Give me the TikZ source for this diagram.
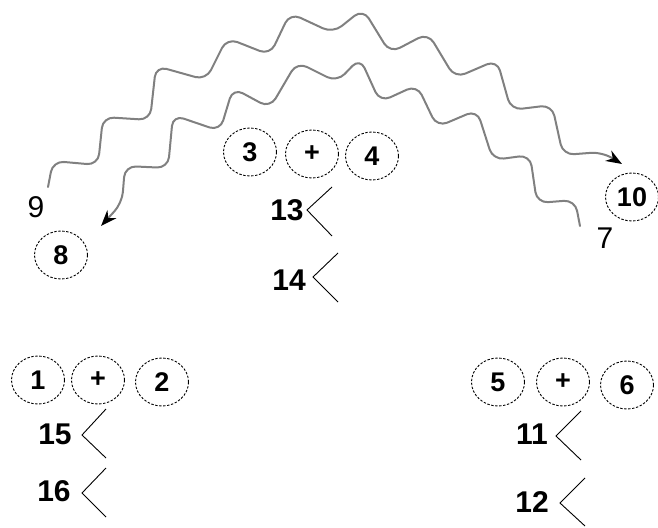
\documentclass[tikz,border=0pt]{standalone}
\usepackage{fontspec}
\setmainfont{Liberation Sans}
\usetikzlibrary{shapes.geometric,arrows.meta,calc}
\begin{document}
\begin{tikzpicture}[x=1pt,y=-1pt,
  bub/.style={ellipse,draw=black,line width=0.9pt,dash pattern=on 2.4pt off 1.6pt,
    minimum width=53pt,minimum height=48pt,inner sep=0pt,
    font=\fontsize{27}{29}\selectfont\bfseries},
  lab/.style={inner sep=0pt,font=\fontsize{30}{33}\selectfont},
  blab/.style={inner sep=0pt,font=\fontsize{30}{33}\selectfont\bfseries},
  chev/.style={draw=black,line width=0.9pt},
  wave/.style={draw=black!50,line width=2pt,rounded corners=11pt,line join=round,line cap=round,
    -{Stealth[color=black,length=16pt,width=12pt]}}]
\useasboundingbox (0,0) rectangle (658,527);

% top group
\node[bub] (c3) at (250,152) {3};
\node[bub] (p1) at (312,154) {+};
\node[bub] (c4) at (372,156) {4};
\node[blab] (n13) at (287,210) {13};
\node[blab] (n14) at (289,280) {14};
\draw[chev] (332,187) -- (307,210) -- (332,236);
\draw[chev] (338,253) -- (313,277) -- (338,302);

% left group
\node[bub] (c1) at (38,380) {1};
\node[bub] (p2) at (98,380) {+};
\node[bub] (c2) at (162,382) {2};
\node[blab] (n15) at (55,434) {15};
\node[blab] (n16) at (54,491) {16};
\draw[chev] (106,409) -- (82,435) -- (106,458);
\draw[chev] (106,468) -- (82,493) -- (106,517);

% right group
\node[bub] (c5) at (498,382) {5};
\node[bub] (p3) at (563,382) {+};
\node[bub] (c6) at (627,385) {6};
\node[blab] (n11) at (532,434) {11};
\node[blab] (n12) at (532,502) {12};
\draw[chev] (581,411) -- (556,436) -- (581,460);
\draw[chev] (585,478) -- (560,503) -- (585,526);

% ends of the waves
\node[lab] (n9) at (36,207) {9};
\node[lab] (n7) at (605,238) {7};
\node[bub] (c8) at (61,255) {8};
\node[bub] (c10) at (632,197) {10};
\coordinate (s9) at (48,187);
\coordinate (e10) at (622,164);
\coordinate (s7) at (580,226);
\coordinate (e8) at (101,226);

% outer wave: 9 -> 10
\draw[wave] (s9) -- (53,161) -- (98,165) -- (103,117) -- (150,120) -- (156,66)
  -- (206,80) -- (227,38) -- (270,55) -- (290,13) -- (333,33) -- (363,9) -- (390,53)
  -- (428,33) -- (455,78) -- (497,60) -- (511,110) -- (552,105) -- (563,155)
  -- (602,152) -- (e10);

% inner wave: 7 -> 8
\draw[wave] (s7) -- (575,200) -- (537,203) -- (530,155) -- (493,160) -- (477,110)
  -- (437,127) -- (417,85) -- (380,102) -- (360,58) -- (337,82) -- (297,62)
  -- (270,108) -- (233,88) -- (220,131) -- (173,115) -- (168,168) -- (125,166)
  -- (122,203) -- (e8);
\end{tikzpicture}
\end{document}
